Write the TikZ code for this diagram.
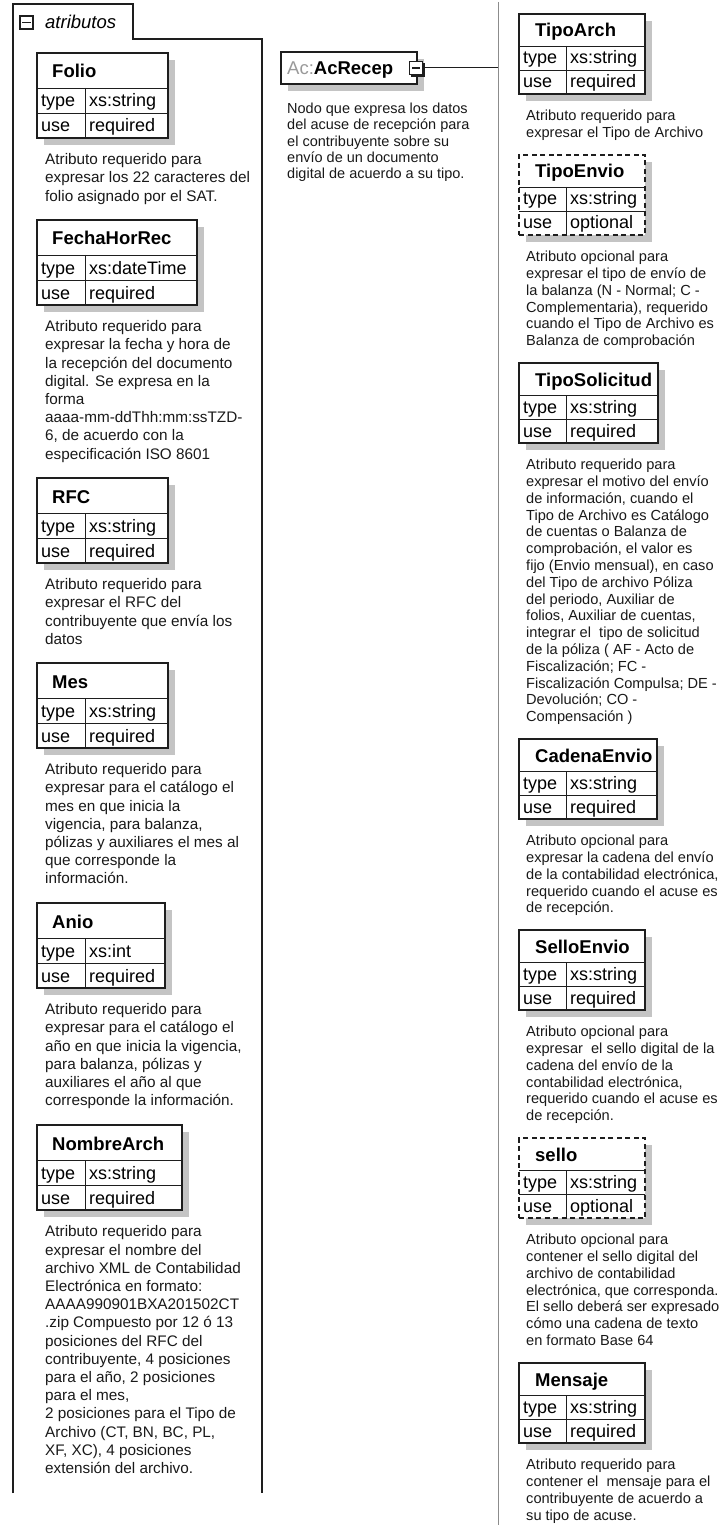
\documentclass[tikz,border=0pt]{standalone}
\usepackage{fontspec}
\setmainfont{Liberation Sans}
\begin{document}
\begin{tikzpicture}[x=1pt,y=-1pt,font=\fontsize{15.3}{18.2}\selectfont,
  attframe/.style={draw=attborder,fill=white,line width=1.3pt,inner sep=0pt,outer sep=0pt},
  optframe/.style={dash pattern=on 5pt off 3.5pt},
  attline/.style={draw=attborder,line width=0.8pt},
  hdr/.style={anchor=base west,inner sep=0pt,font=\bfseries\fontsize{18.5}{18.5}\selectfont},
  cell/.style={anchor=base west,inner sep=0pt,font=\fontsize{18}{18}\selectfont},
  attdesc/.style={anchor=north west,inner sep=0pt,align=left,text=black!90}]
  \definecolor{attborder}{HTML}{1E1E1E}
  \definecolor{attshadow}{HTML}{C4C4C4}
  \definecolor{nsgray}{HTML}{9A9A9A}
  \definecolor{railgray}{HTML}{8C8C8C}
  % attribute group frame
  \draw[attborder,line width=1.3pt] (13,1493) -- (13,4) -- (133,4) -- (133,39) -- (262,39) -- (262,1493);
  \node[draw=attborder,fill=white,line width=1.1pt,minimum size=13pt,inner sep=0pt] (grpminus) at (26.5,22.5) {};
  \draw[attborder,line width=1.3pt] ([xshift=3pt]grpminus.west) -- ([xshift=-3pt]grpminus.east);
  \node[anchor=west,inner sep=0pt,font=\itshape\fontsize{18.5}{18.5}\selectfont] (grptitle) at (45,22) {atributos};
  % root element
  \fill[attshadow] (288,59) rectangle (424,91);
  \node[attframe,anchor=north west,minimum width=136pt,minimum height=32pt] (acrecep) at (281,52) {};
  \node[anchor=base west,inner sep=0pt,font=\fontsize{18.5}{18.5}\selectfont] (acname) at (287,75)
    {\textcolor{nsgray}{Ac:}\textbf{AcRecep}};
  \fill[attborder] (411,63) rectangle (425,77);
  \node[draw=attborder,fill=white,line width=1pt,minimum size=13pt,inner sep=0pt] (acminus) at (416,68) {};
  \draw[attborder,line width=1.2pt] ([xshift=3pt]acminus.west) -- ([xshift=-3pt]acminus.east);
  \node[attdesc,font=\fontsize{14.5}{16.2}\selectfont] (acdesc) at (287,103)
    {Nodo que expresa los datos\\del acuse de recepción para\\el contribuyente sobre su\\envío de un documento\\digital de acuerdo a su tipo.};
  \coordinate (railtop) at (498,2);
  \coordinate (railbot) at (498,1525);
  \coordinate (railjoin) at (498,68);
  \draw[railgray,line width=1pt] (railtop) -- (railbot);
  \draw[attborder,line width=1pt] (acminus.east) -- (railjoin);
  % left column
  \foreach \y/\w/\attname/\tp/\desc in {
    {53/131/Folio/xs:string/Atributo requerido para\\expresar los 22 caracteres del\\folio asignado por el SAT.},
    {220/160/FechaHorRec/xs:dateTime/Atributo requerido para\\expresar la fecha y hora de\\la recepción del documento\\digital. Se expresa en la\\forma\\aaaa-mm-ddThh:mm:ssTZD-\\6, de acuerdo con la\\especificación ISO 8601},
    {478/131/RFC/xs:string/Atributo requerido para\\expresar el RFC del\\contribuyente que envía los\\datos},
    {663/131/Mes/xs:string/Atributo requerido para\\expresar para el catálogo el\\mes en que inicia la\\vigencia, para balanza,\\pólizas y auxiliares el mes al\\que corresponde la\\información.},
    {903/128/Anio/xs:int/Atributo requerido para\\expresar para el catálogo el\\año en que inicia la vigencia,\\para balanza, pólizas y\\auxiliares el año al que\\corresponde la información.},
    {1125/145/NombreArch/xs:string/Atributo requerido para\\expresar el nombre del\\archivo XML de Contabilidad\\Electrónica en formato:\\AAAA990901BXA201502CT\\.zip Compuesto por 12 ó 13\\posiciones del RFC del\\contribuyente, 4 posiciones\\para el año, 2 posiciones\\para el mes,\\2 posiciones para el Tipo de\\Archivo (CT, BN, BC, PL,\\XF, XC), 4 posiciones\\extensión del archivo.}}{
    \fill[attshadow] (44,\y+7) rectangle (37+\w+7,\y+92);
    \node[attframe,anchor=north west,minimum width=\w pt,minimum height=85pt] (box-\attname) at (37,\y) {};
    \draw[attline] (37,\y+35) -- ++(\w,0) (37,\y+60) -- ++(\w,0) (85,\y+35) -- (85,\y+85);
    \node[hdr] (hdr-\attname) at (52,\y+25) {\attname};
    \node[cell] (tk-\attname) at (41,\y+54) {type};
    \node[cell] (tv-\attname) at (89,\y+54) {\tp};
    \node[cell] (uk-\attname) at (41,\y+79) {use};
    \node[cell] (uv-\attname) at (89,\y+79) {required};
    \node[attdesc] (desc-\attname) at (45,\y+100.5) {\desc};
  }
  % right column
  \foreach \y/\w/\attname/\usage/\bdr/\desc in {
    {14/126/TipoArch/required/solid/Atributo requerido para\\expresar el Tipo de Archivo},
    {155/126/TipoEnvio/optional/optframe/Atributo opcional para\\expresar el tipo de envío de\\la balanza (N - Normal; C -\\Complementaria), requerido\\cuando el Tipo de Archivo es\\Balanza de comprobación},
    {363/139/TipoSolicitud/required/solid/Atributo requerido para\\expresar el motivo del envío\\de información, cuando el\\Tipo de Archivo es Catálogo\\de cuentas o Balanza de\\comprobación, el valor es\\fijo (Envio mensual), en caso\\del Tipo de archivo Póliza\\del periodo, Auxiliar de\\folios, Auxiliar de cuentas,\\integrar el\ \ tipo de solicitud\\de la póliza ( AF - Acto de\\Fiscalización; FC -\\Fiscalización Compulsa; DE -\\Devolución; CO -\\Compensación )},
    {739/138/CadenaEnvio/required/solid/Atributo opcional para\\expresar la cadena del envío\\de la contabilidad electrónica,\\requerido cuando el acuse es\\de recepción.},
    {930/126/SelloEnvio/required/solid/Atributo opcional para\\expresar\ \ el sello digital de la\\cadena del envío de la\\contabilidad electrónica,\\requerido cuando el acuse es\\de recepción.},
    {1138/126/sello/optional/optframe/Atributo opcional para\\contener el sello digital del\\archivo de contabilidad\\electrónica, que corresponda.\\El sello deberá ser expresado\\cómo una cadena de texto\\en formato Base 64},
    {1363/126/Mensaje/required/solid/Atributo requerido para\\contener el\ \ mensaje para el\\contribuyente de acuerdo a\\su tipo de acuse.}}{
    \fill[attshadow] (526,\y+7) rectangle (519+\w+7,\y+87);
    \node[attframe,\bdr,anchor=north west,minimum width=\w pt,minimum height=80pt] (box-\attname) at (519,\y) {};
    \draw[attline] (519,\y+32) -- ++(\w,0) (519,\y+56) -- ++(\w,0) (566,\y+32) -- (566,\y+80);
    \node[hdr] (hdr-\attname) at (535,\y+23) {\attname};
    \node[cell] (tk-\attname) at (523,\y+50) {type};
    \node[cell] (tv-\attname) at (570,\y+50) {xs:string};
    \node[cell] (uk-\attname) at (523,\y+74) {use};
    \node[cell] (uv-\attname) at (570,\y+74) {\usage};
    \node[attdesc,font=\fontsize{14.6}{16.8}\selectfont] (desc-\attname) at (526,\y+96) {\desc};
  }
  \path[use as bounding box] (0,0) rectangle (721,1530);
\end{tikzpicture}
\end{document}
